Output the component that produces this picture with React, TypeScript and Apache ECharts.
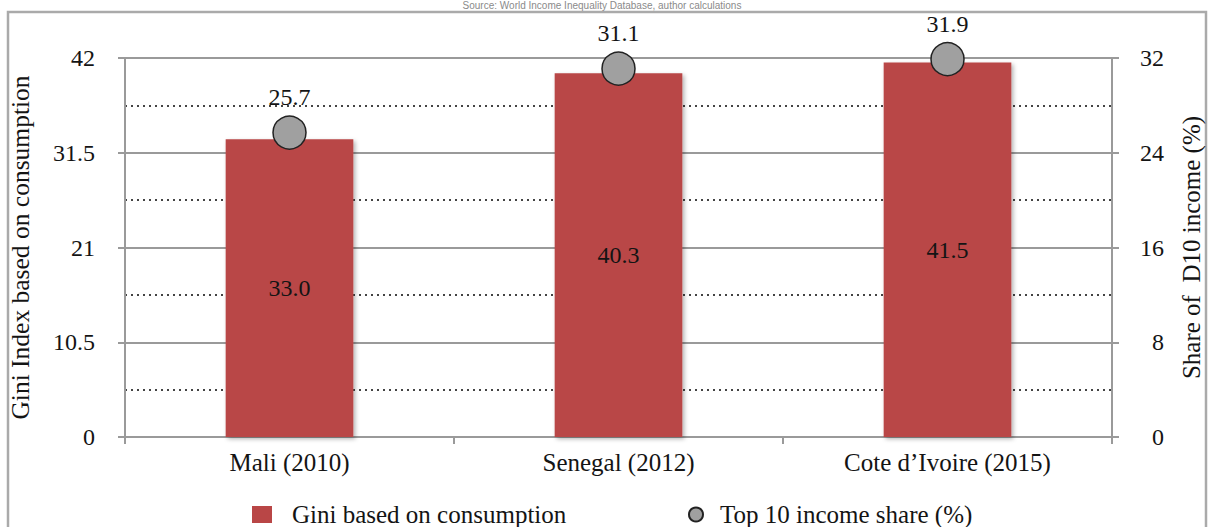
import React, { useEffect, useRef } from "react";
import * as echarts from "echarts";

const categories = ["Mali (2010)", "Senegal (2012)", "Cote d\u2019Ivoire (2015)"];
const giniValues = [33.0, 40.3, 41.5];
const top10Share = [25.7, 31.1, 31.9];
const leftAxisMax = 42;
const leftAxisStep = 10.5;
const rightAxisMax = 32;
const rightAxisStep = 8;
const giniName = "Gini based on consumption";
const top10Name = "Top 10 income share (%)";
const leftAxisName = "Gini Index based on consumption";
const rightAxisName = "Share of  D10 income (%)";
const sourceNote = "Source: World Income Inequality Database, author calculations";

export default function App() {
  const ref = useRef<HTMLDivElement>(null);
  useEffect(() => {
    const chart = echarts.init(ref.current!, null, { renderer: "svg" });
    const font = "'Liberation Serif', 'Times New Roman', serif";
    const fs = 24;
    const txt = "#141414";
    const axisGray = "#9a9a9a";
    chart.setOption({
      animation: false,
      backgroundColor: "#ffffff",
      textStyle: { fontFamily: font },
      grid: { left: 125, right: 99, top: 58, bottom: 90, outerBoundsMode: "none", containLabel: false },
      legend: [
        {
          data: [{ name: giniName, icon: "rect" }],
          left: 252,
          top: 502,
          itemWidth: 20,
          itemHeight: 17,
          selectedMode: false,
          padding: 0,
          textStyle: { fontFamily: font, fontSize: 25, color: txt, padding: [0, 0, 0, 15] },
        },
        {
          data: [{ name: top10Name, icon: "circle" }],
          left: 688,
          top: 502,
          itemWidth: 14,
          itemHeight: 14,
          selectedMode: false,
          padding: 0,
          textStyle: { fontFamily: font, fontSize: 25, color: txt, padding: [0, 0, 0, 12] },
        },
      ],
      xAxis: {
        type: "category",
        data: categories,
        axisLine: { show: true, lineStyle: { color: axisGray, width: 2 } },
        axisTick: { show: true, length: 7, lineStyle: { color: axisGray, width: 2 } },
        axisLabel: { fontFamily: font, fontSize: 25, color: txt, margin: 13 },
        splitLine: { show: false },
      },
      yAxis: [
        {
          type: "value",
          min: 0,
          max: leftAxisMax,
          interval: leftAxisStep,
          position: "left",
          name: leftAxisName,
          nameLocation: "middle",
          nameRotate: 90,
          nameGap: 92,
          nameTextStyle: { fontFamily: font, fontSize: 25.5, color: txt },
          axisLine: { show: true, lineStyle: { color: axisGray, width: 2 } },
          axisTick: { show: true, length: 7, lineStyle: { color: axisGray, width: 2 } },
          axisLabel: { fontFamily: font, fontSize: fs, color: txt, margin: 30 },
          splitLine: { show: true, lineStyle: { color: axisGray, width: 2 } },
          minorTick: { show: false, splitNumber: 2 },
          minorSplitLine: { show: true, lineStyle: { color: "#444", width: 2, type: [2, 4] } },
        },
        {
          type: "value",
          min: 0,
          max: rightAxisMax,
          interval: rightAxisStep,
          position: "right",
          name: rightAxisName,
          nameLocation: "middle",
          nameRotate: 90,
          nameGap: 67,
          nameTextStyle: { fontFamily: font, fontSize: 25, color: txt },
          axisLine: { show: true, lineStyle: { color: axisGray, width: 2 } },
          axisTick: { show: true, length: 7, lineStyle: { color: axisGray, width: 2 } },
          axisLabel: { fontFamily: font, fontSize: fs, color: txt, margin: 52, align: "right" },
          splitLine: { show: false },
        },
      ],
      series: [
        {
          name: giniName,
          type: "bar",
          data: giniValues,
          barWidth: "38.8%",
          itemStyle: {
            color: "#b94646",
            shadowBlur: 4,
            shadowColor: "rgba(0,0,0,0.3)",
            shadowOffsetX: 2,
            shadowOffsetY: 2,
          },
          label: {
            show: true,
            position: "inside",
            formatter: (p: any) => Number(p.value).toFixed(1),
            fontFamily: font,
            fontSize: fs,
            color: txt,
            textBorderWidth: 0,
          },
        },
        {
          name: top10Name,
          type: "scatter",
          yAxisIndex: 1,
          data: top10Share,
          symbol: "circle",
          symbolSize: 33,
          itemStyle: { color: "#a0a0a0", borderColor: "#222", borderWidth: 1.5, opacity: 1 },
          label: {
            show: true,
            position: "top",
            distance: 6,
            formatter: (p: any) => Number(p.value).toFixed(1),
            fontFamily: font,
            fontSize: fs,
            color: txt,
            textBorderWidth: 0,
          },
        },
      ],
      graphic: [
        {
          type: "rect",
          shape: { x: 8, y: 12, width: 1198, height: 600 },
          style: { fill: "none", stroke: "#aaaaaa", lineWidth: 2.5 },
          silent: true,
        },
        {
          type: "text",
          x: 602,
          y: 0,
          style: {
            text: sourceNote,
            fontFamily: "Arial, 'Liberation Sans', sans-serif",
            fontSize: 10,
            fill: "#8a8a8a",
            textAlign: "center",
            textVerticalAlign: "top",
          },
          silent: true,
        },
      ],
    });
    return () => chart.dispose();
  }, []);
  return (
    <div
      ref={ref}
      style={{ position: "absolute", left: 0, top: 0, width: 1211, height: 527 }}
    />
  );
}
